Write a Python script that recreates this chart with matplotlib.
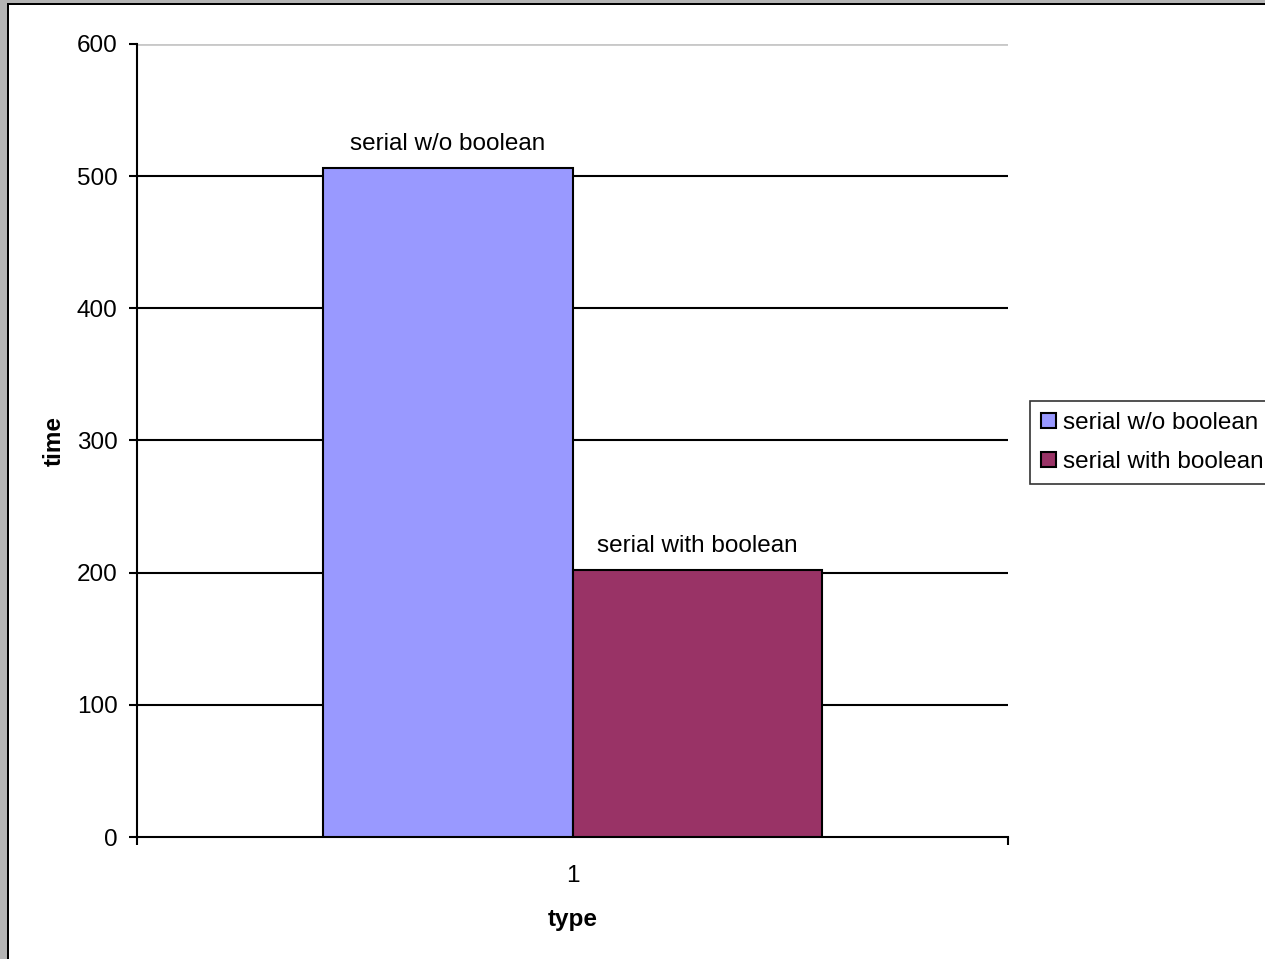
import numpy as np
import matplotlib
matplotlib.use('agg')
import matplotlib.pyplot as plt
from matplotlib.patches import Rectangle

series = ['serial w/o boolean', 'serial with boolean']
values = [506, 202]
colors = ['#9999FF', '#993366']
categories = ['1']
yticks = [0, 100, 200, 300, 400, 500, 600]

plt.rcParams['font.family'] = ['Liberation Sans', 'DejaVu Sans']
fs = 17.5

fig = plt.figure(figsize=(12.65, 9.59), dpi=100)
ax = fig.add_axes([137 / 1265, 1 - 837 / 959, 871 / 1265, 793 / 959])

# window frame bits
fig.patches.append(Rectangle((0, 0), 7 / 1265, 1, transform=fig.transFigure,
                             facecolor='#b4b4b4', edgecolor='none', zorder=0))
fig.patches.append(Rectangle((7 / 1265, 0), 2 / 1265, 1 - 3 / 959, transform=fig.transFigure,
                             facecolor='black', edgecolor='none', zorder=0))
fig.patches.append(Rectangle((0, 1 - 3 / 959), 1, 3 / 959, transform=fig.transFigure,
                             facecolor='#b4b4b4', edgecolor='none', zorder=0))
fig.patches.append(Rectangle((7 / 1265, 1 - 5 / 959), 1, 2 / 959, transform=fig.transFigure,
                             facecolor='black', edgecolor='none', zorder=0))

w = 0.287
x0 = 1
offsets = [-w / 2, w / 2]
for name, v, c, off in zip(series, values, colors, offsets):
    ax.bar(x0 + off, v, width=w, color=c, edgecolor='black', linewidth=1.5,
           label=name, zorder=3)
    ax.text(x0 + off, v + 10, name, ha='center', va='bottom', fontsize=fs)

ax.set_xlim(0.5, 1.5)
ax.set_ylim(0, 600)
ax.set_yticks(yticks)
ax.set_xticks([1])
ax.set_xticklabels(categories)
ax.set_xticks([0.5, 1.5], minor=True)

for t in yticks[1:-1]:
    ax.axhline(t, color='black', linewidth=1.5, zorder=1)
ax.axhline(600, color='#c8c8c8', linewidth=2, zorder=1)

for s in ['top', 'right']:
    ax.spines[s].set_visible(False)
ax.spines['left'].set_linewidth(1.5)
ax.spines['bottom'].set_linewidth(1.5)

ax.tick_params(axis='y', direction='out', length=6, width=1.5, pad=8, labelsize=fs)
ax.tick_params(axis='x', which='major', length=0, pad=20, labelsize=fs)
ax.tick_params(axis='x', which='minor', direction='out', length=6, width=1.5)

ax.set_ylabel('time', fontsize=fs, fontweight='bold', labelpad=8)
ax.set_xlabel('type', fontsize=fs, fontweight='bold', labelpad=15)

leg = fig.legend(loc='upper left', bbox_to_anchor=(1030 / 1265, 1 - 401 / 959),
                 borderaxespad=0, fontsize=fs, handlelength=0.6, handleheight=0.6,
                 handletextpad=0.3, borderpad=0.45, labelspacing=0.7, fancybox=False)
leg.get_frame().set_edgecolor('black')
leg.get_frame().set_linewidth(1.2)

fig.savefig('out.png', dpi=100)
